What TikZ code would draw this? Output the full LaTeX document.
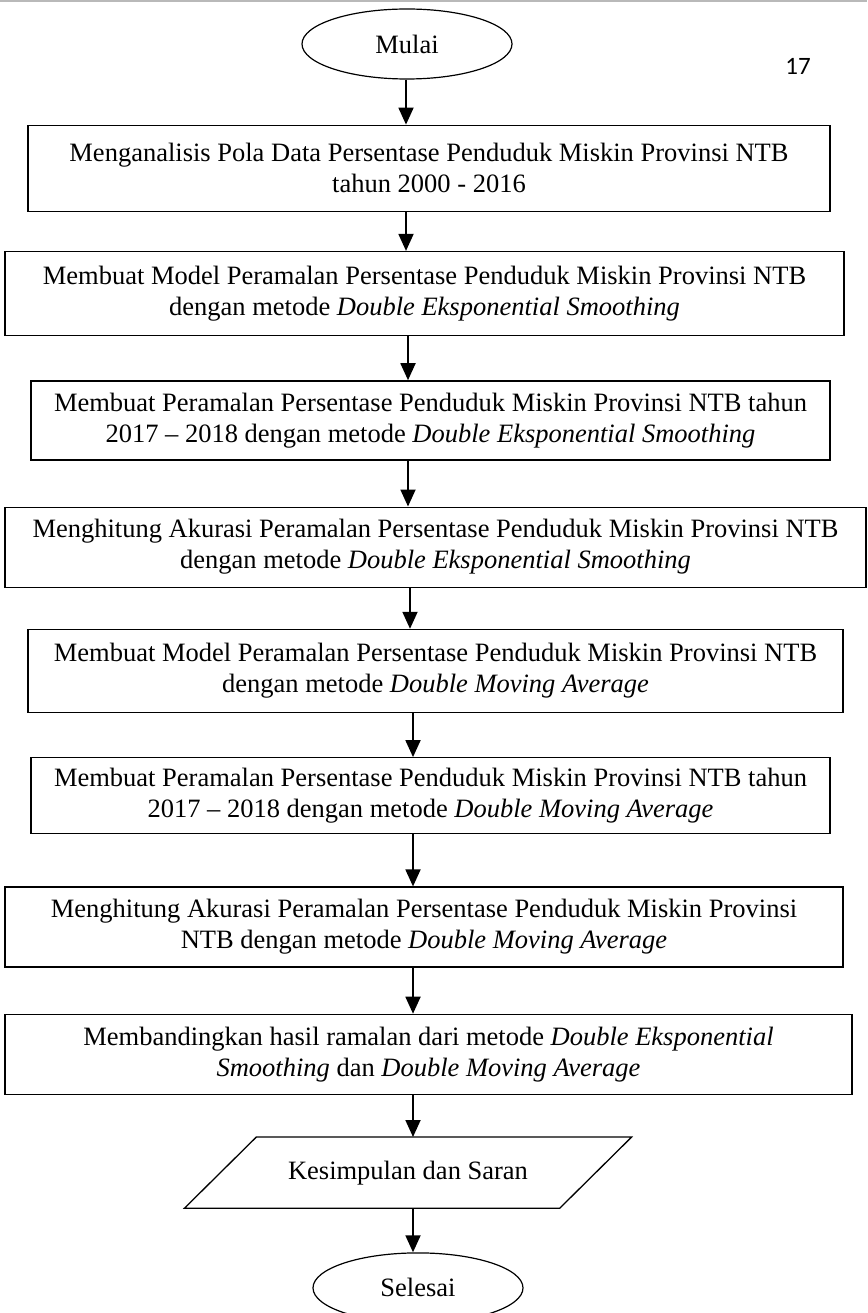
\documentclass[tikz,border=0pt]{standalone}
\usepackage{fontspec}
\setmainfont{Liberation Serif}
\newfontfamily\pagenumfont{Carlito}
\usetikzlibrary{arrows.meta,positioning,shapes.geometric}

\begin{document}
\begin{tikzpicture}[
  x=1pt, y=-1pt, node distance=44pt, >={Triangle[length=17pt, width=15pt]},
  box/.style={draw, line width=1.3pt, align=center, inner sep=0pt,
              font=\fontsize{26.5}{31}\selectfont},
  term/.style={draw, ellipse, line width=1.2pt, inner sep=0pt,
               minimum width=210pt, minimum height=70pt,
               font=\fontsize{26.5}{31}\selectfont},
  flow/.style={->, line width=1.8pt}
]
\useasboundingbox (0,0) rectangle (867,1313);
\draw[gray!55, line width=2pt] (0,1) -- (867,1);
\node[term] (mulai) at (407,44) {Mulai};
\node[font=\pagenumfont\fontsize{25}{29}\selectfont] (hal) at (798,66) {17};
\node[box, minimum width=802pt, minimum height=86pt, below=45pt of mulai, xshift=22pt] (b1)
  {Menganalisis Pola Data Persentase Penduduk Miskin Provinsi NTB\\tahun 2000 - 2016};
\node[box, minimum width=839pt, minimum height=84pt, below=39pt of b1, xshift=-4.5pt] (b2)
  {Membuat Model Peramalan Persentase Penduduk Miskin Provinsi NTB\\dengan metode \textit{Double Eksponential Smoothing}};
\node[box, minimum width=799pt, minimum height=79pt, below=44pt of b2, xshift=6pt] (b3)
  {Membuat Peramalan Persentase Penduduk Miskin Provinsi NTB tahun\\2017 -- 2018 dengan metode \textit{Double Eksponential Smoothing}};
\node[box, minimum width=861pt, minimum height=80pt, below=46pt of b3, xshift=5pt] (b4)
  {Menghitung Akurasi Peramalan Persentase Penduduk Miskin Provinsi NTB\\dengan metode \textit{Double Eksponential Smoothing}};
\node[box, minimum width=815pt, minimum height=83pt, below=41pt of b4] (b5)
  {Membuat Model Peramalan Persentase Penduduk Miskin Provinsi NTB\\dengan metode \textit{Double Moving Average}};
\node[box, minimum width=799pt, minimum height=76pt, below=44pt of b5, xshift=-5pt] (b6)
  {Membuat Peramalan Persentase Penduduk Miskin Provinsi NTB tahun\\2017 -- 2018 dengan metode \textit{Double Moving Average}};
\node[box, minimum width=838pt, minimum height=80pt, below=52pt of b6, xshift=-6.5pt] (b7)
  {Menghitung Akurasi Peramalan Persentase Penduduk Miskin Provinsi\\NTB dengan metode \textit{Double Moving Average}};
\node[box, minimum width=847pt, minimum height=80pt, below=46pt of b7, xshift=4.5pt] (b8)
  {Membandingkan hasil ramalan dari metode \textit{Double Eksponential}\\\textit{Smoothing} dan \textit{Double Moving Average}};
\node[box, draw=none, minimum width=374pt, minimum height=70pt, below=42pt of b8, xshift=-20.5pt] (kes)
  {Kesimpulan dan Saran};
\draw[line width=1.3pt] ([xshift=36pt]kes.north west) -- ([xshift=36pt]kes.north east)
  -- ([xshift=-36pt]kes.south east) -- ([xshift=-36pt]kes.south west) -- cycle;
\node[term, below=44pt of kes, xshift=10pt] (selesai) {Selesai};
% arrows between the steps
\foreach \a/\b/\x in {mulai/b1/406, b1/b2/406, b2/b3/408, b3/b4/408, b4/b5/410,
                      b5/b6/413, b6/b7/413, b7/b8/413, b8/kes/413, kes/selesai/413}
  \draw[flow] (\a.south -| \x,0) -- (\b.north -| \x,0);
\end{tikzpicture}
\end{document}
